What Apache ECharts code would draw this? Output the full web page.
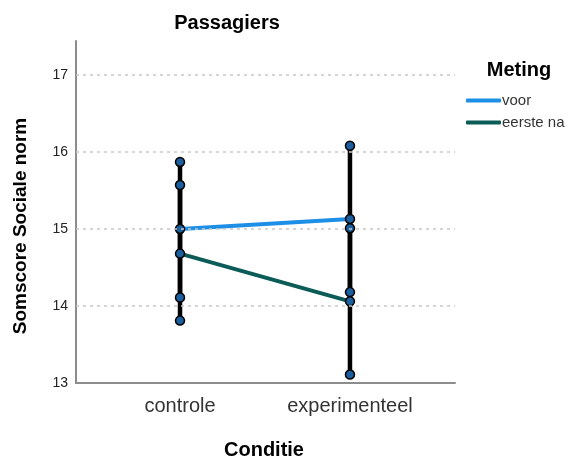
<!DOCTYPE html>
<html>
<head>
<meta charset="utf-8">
<script src="https://cdn.jsdelivr.net/npm/echarts@6/dist/echarts.min.js"></script>
<style>
html,body{margin:0;padding:0;background:#fff;}
#chart{width:576px;height:460px;}
</style>
</head>
<body>
<div id="chart"></div>
<script>
// ---- data ----
const categories = ['controle', 'experimenteel'];
const seriesNames = ['voor', 'eerste na'];
const voorMean = [15.00, 15.13];
const voorLow = [14.11, 14.18];
const voorHigh = [15.87, 16.08];
const naMean = [14.68, 14.06];
const naLow = [13.81, 13.11];
const naHigh = [15.57, 15.01];
const yTicks = [13, 14, 15, 16, 17];
const titleText = 'Passagiers';
const xName = 'Conditie';
const yName = 'Somscore Sociale norm';
const legendTitle = 'Meting';

const FONT = '"Liberation Sans", Arial, sans-serif';
const chart = echarts.init(document.getElementById('chart'), null, {renderer: 'canvas'});

const catIdx = categories.map((c, i) => i);
const voorLine = catIdx.map(i => [i, voorMean[i]]);
const naLine = catIdx.map(i => [i, naMean[i]]);
const errData = [];
catIdx.forEach(i => {
  errData.push([i, voorLow[i], voorHigh[i]]);
  errData.push([i, naLow[i], naHigh[i]]);
});
const markerData = [];
catIdx.forEach(i => {
  [voorMean, voorLow, voorHigh, naMean, naLow, naHigh].forEach(arr => markerData.push([i, arr[i]]));
});

const option = {
  backgroundColor: '#fff',
  animation: false,
  textStyle: {fontFamily: FONT},
  grid: {left: 76, right: 121, top: 41, bottom: 77, containLabel: false},
  xAxis: {
    type: 'value',
    min: -0.612,
    max: 1.618,
    axisLine: {show: true, onZero: false, lineStyle: {color: '#8c8c8c', width: 2}},
    axisTick: {show: false},
    splitLine: {show: false},
    axisLabel: {
      customValues: catIdx,
      formatter: v => categories[Math.round(v)] || '',
      color: '#333', fontSize: 20, fontFamily: FONT, margin: 13
    }
  },
  yAxis: {
    type: 'value',
    min: 13,
    max: 17.44,
    interval: 1,
    axisLine: {show: true, onZero: false, lineStyle: {color: '#8c8c8c', width: 2}},
    axisTick: {show: false},
    splitLine: {show: false},
    axisLabel: {
      customValues: yTicks,
      color: '#222', fontSize: 14, fontFamily: FONT, margin: 8
    }
  },
  legend: {
    orient: 'vertical',
    left: 461,
    top: 88,
    itemWidth: 35,
    itemHeight: 4,
    itemGap: 7,
    icon: 'roundRect',
    data: seriesNames,
    textStyle: {fontSize: 15, color: '#333', fontFamily: FONT, lineHeight: 15, padding: [0,0,0,-4]}
  },
  graphic: [
    {type: 'text', position: [227, 23],
     style: {text: titleText, font: 'bold 20px ' + FONT, fill: '#000', textAlign: 'center', textVerticalAlign: 'middle'}},
    {type: 'text', position: [264, 450],
     style: {text: xName, font: 'bold 20px ' + FONT, fill: '#000', textAlign: 'center', textVerticalAlign: 'middle'}},
    {type: 'text', position: [21, 226], rotation: Math.PI / 2,
     style: {text: yName, font: 'bold 19px ' + FONT, fill: '#000', textAlign: 'center', textVerticalAlign: 'middle'}},
    {type: 'text', position: [519, 70],
     style: {text: legendTitle, font: 'bold 20px ' + FONT, fill: '#000', textAlign: 'center', textVerticalAlign: 'middle'}}
  ],
  series: [
    {
      name: 'grid', type: 'line', data: [], silent: true, z: 1,
      markLine: {
        silent: true, symbol: 'none', label: {show: false},
        lineStyle: {type: [3, 4], color: '#c8c8c8', width: 1.5},
        data: yTicks.filter(v => v > 13).map(v => ({yAxis: v}))
      }
    },
    {name: seriesNames[0], type: 'line', data: voorLine, color: '#1e8fe6', symbol: 'none',
     lineStyle: {width: 4, color: '#1e8fe6'}, z: 2},
    {name: seriesNames[1], type: 'line', data: naLine, color: '#0b5c57', symbol: 'none',
     lineStyle: {width: 4, color: '#0b5c57'}, z: 2},
    {
      name: 'ci', type: 'custom', data: errData, z: 3,
      encode: {x: 0, y: [1, 2]},
      renderItem: (params, api) => {
        const p1 = api.coord([api.value(0), api.value(1)]);
        const p2 = api.coord([api.value(0), api.value(2)]);
        return {type: 'line', shape: {x1: p1[0], y1: p1[1], x2: p2[0], y2: p2[1]},
                style: {stroke: '#000', lineWidth: 4.5}};
      }
    },
    {name: 'markers', type: 'scatter', data: markerData, symbol: 'circle', symbolSize: 9, z: 4,
     itemStyle: {color: '#1c5f9e', borderColor: '#000', borderWidth: 1.5, opacity: 1}}
  ]
};
chart.setOption(option);
</script>
</body>
</html>
